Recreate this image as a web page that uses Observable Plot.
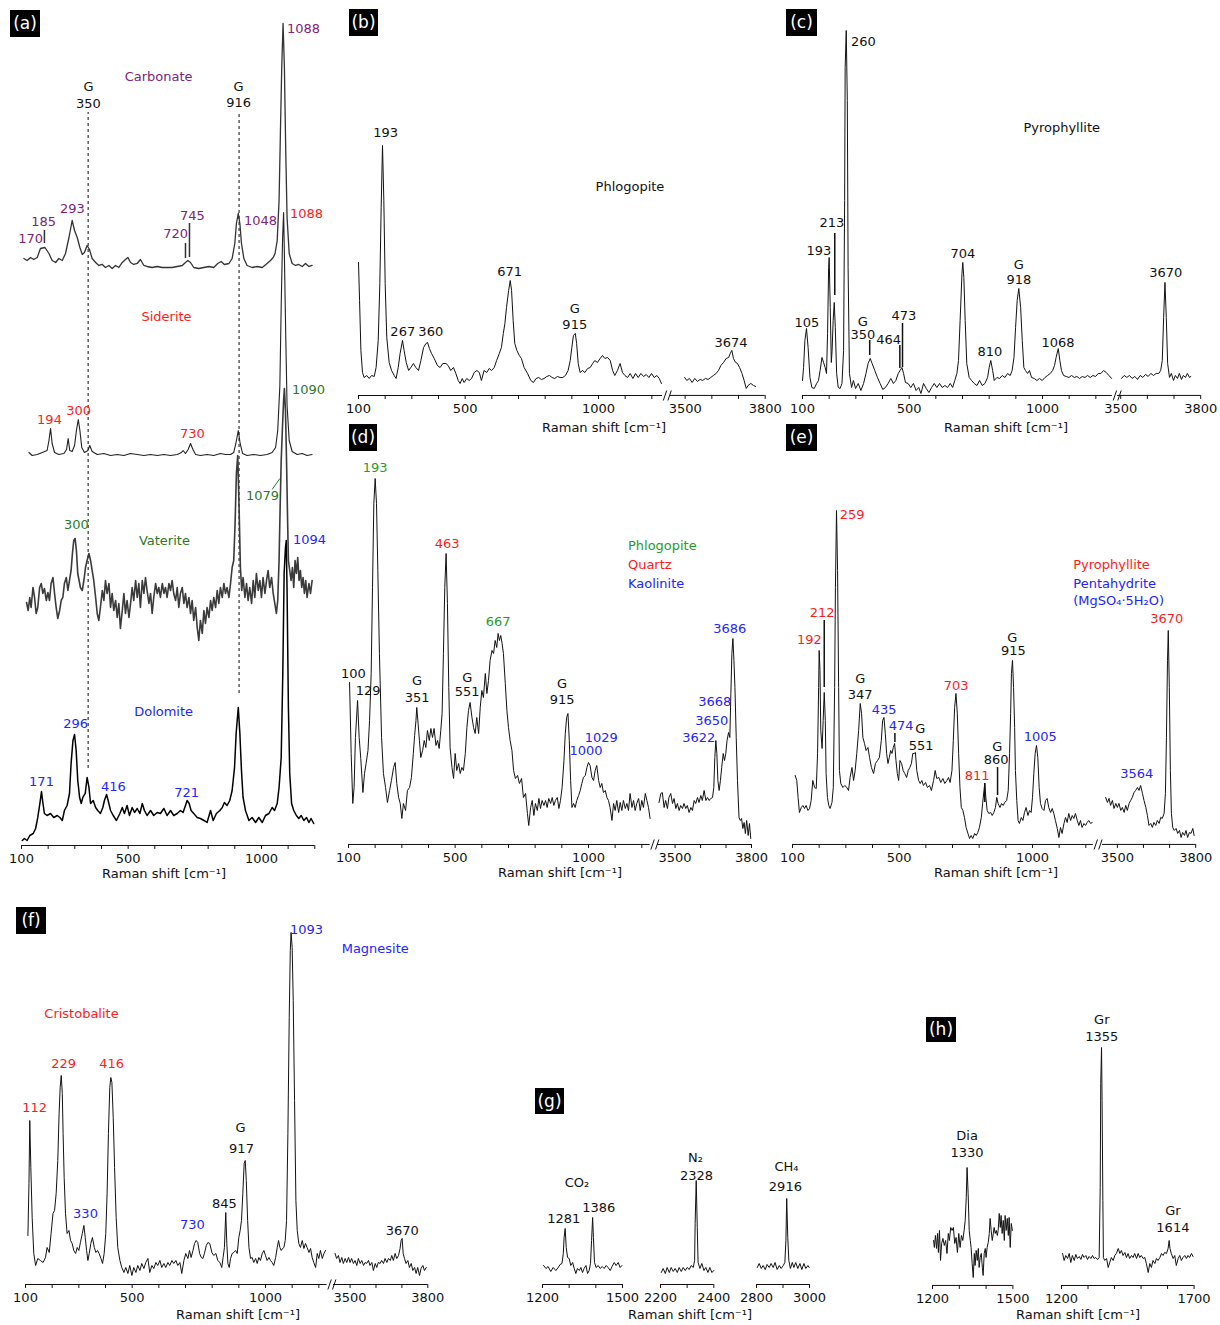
<!DOCTYPE html>
<html><head><meta charset="utf-8">
<script src="https://cdn.jsdelivr.net/npm/d3@7"></script>
<script src="https://cdn.jsdelivr.net/npm/@observablehq/plot@0.6"></script>
<style>
html,body{margin:0;padding:0;background:#fff;}
#root{position:relative;width:1220px;height:1325px;background:#fff;font-family:"DejaVu Sans",Verdana,sans-serif;color:#111;overflow:hidden}
.tag{position:absolute;background:#000;color:#fff;font-size:17px;text-align:center;}
.xl{position:absolute;font-size:13px;transform:translate(-50%,-50%);white-space:nowrap;color:#111}
</style></head><body><div id="root"></div>
<script>
// ---------- colours ----------
const PURPLE="#80237b", RED="#ff1a1a", GREEN="#2a7a2a", GREEN2="#2a9a2a", BLUE="#2424ff", BLACK="#111";

// ---------- tick values / labels ----------
const ticksLow=[100,200,300,400,500,600,700,800,900,1000,1100,1200];
const labelsLow=[100,500,1000];
const ticksHigh=[3500,3600,3700,3800];
const labelsHigh=[3500,3800];
const ticksG1=[1200,1300,1400,1500], labelsG1=[1200,1500];
const ticksG2=[2200,2300,2400], labelsG2=[2200,2400];
const ticksG3=[2800,2900,3000], labelsG3=[2800,3000];
const ticksH1=[1200,1300,1400,1500], labelsH1=[1200,1500];
const ticksH2=[1200,1300,1400,1500,1600,1700], labelsH2=[1200,1700];

// ---------- panel (a): stacked carbonate spectra [shift, intensity] ----------
const offsetsA={carbonate:578, siderite:390, vaterite:245, dolomite:23};
const carbonate=[[109,9],[121,7],[134,10],[146,8],[159,10],[171,19],[188,20],[203,14],[215,7],[228,5],[240,9],[253,7],[265,14],[278,30],[290,47],[299,37],[309,30],[319,20],[328,13],[336,15],[346,22],[355,18],[365,9],[378,5],[390,2],[403,3],[415,0],[428,2],[440,-1],[453,2],[465,0],[478,5],[490,8],[499,10],[509,5],[521,3],[534,4],[546,8],[559,2],[571,1],[590,0],[609,1],[628,0],[646,0],[665,0],[684,1],[703,2],[715,5],[724,7],[734,5],[746,0],[765,-1],[784,0],[803,1],[821,0],[836,4],[849,6],[861,3],[878,4],[890,9],[900,24],[906,44],[913,54],[919,44],[925,24],[934,9],[946,2],[965,0],[984,1],[1003,0],[1021,4],[1034,7],[1044,10],[1051,14],[1059,27],[1066,67],[1071,134],[1076,200],[1081,244],[1086,200],[1091,117],[1096,50],[1104,14],[1115,4],[1128,2],[1140,3],[1153,1],[1165,4],[1178,1],[1190,2]];
const siderite=[[128,3],[140,0],[159,1],[178,3],[196,5],[203,15],[209,27],[215,12],[224,3],[240,1],[259,2],[269,6],[275,17],[281,5],[290,4],[299,10],[306,25],[313,36],[319,25],[326,8],[336,3],[349,5],[356,10],[365,4],[384,1],[409,2],[434,0],[459,1],[484,0],[509,2],[534,1],[559,0],[584,1],[609,0],[634,1],[659,0],[684,1],[700,3],[706,5],[715,2],[725,6],[734,12],[743,6],[753,1],[771,0],[796,1],[821,0],[846,2],[865,1],[884,1],[896,3],[904,12],[913,25],[920,12],[929,2],[946,0],[971,1],[996,0],[1021,1],[1040,3],[1053,8],[1061,25],[1069,70],[1074,150],[1079,215],[1083,243],[1086,200],[1091,120],[1096,50],[1104,15],[1115,4],[1134,1],[1153,2],[1171,0],[1190,1]];
const vaterite=[[119,-2],[125,-10],[131,3],[136,-7],[143,13],[149,3],[155,-13],[161,-7],[168,13],[174,17],[180,7],[186,12],[193,0],[199,8],[205,0],[211,17],[218,23],[224,7],[230,-7],[236,-18],[243,-10],[249,0],[255,3],[261,17],[268,23],[274,10],[280,20],[286,30],[291,47],[296,60],[301,62],[306,50],[311,27],[316,20],[321,13],[328,10],[334,20],[340,33],[346,40],[353,47],[359,40],[365,30],[371,20],[378,3],[384,-13],[390,-20],[396,-7],[403,10],[409,0],[415,20],[421,7],[428,17],[434,-7],[440,7],[446,-10],[453,0],[459,-17],[465,-3],[471,-28],[478,-10],[484,7],[490,-13],[496,0],[503,-17],[509,-3],[515,13],[521,0],[528,20],[534,3],[540,17],[546,-7],[553,20],[559,7],[565,23],[571,10],[578,-3],[584,7],[590,-13],[596,3],[603,17],[609,7],[615,13],[621,3],[628,17],[634,7],[640,13],[646,3],[653,17],[659,10],[665,20],[671,7],[678,0],[684,13],[690,-7],[696,7],[703,13],[709,-3],[715,7],[721,-7],[728,3],[734,-13],[740,0],[746,-20],[753,-7],[759,-27],[765,-40],[771,-20],[778,-33],[784,-10],[790,-23],[796,-7],[803,-17],[809,0],[815,-10],[821,3],[828,-7],[834,10],[840,-3],[846,13],[853,3],[859,17],[865,7],[871,13],[878,3],[884,17],[890,33],[896,40],[901,77],[906,127],[911,145],[916,93],[921,33],[926,10],[931,23],[938,3],[944,17],[950,0],[956,13],[963,-3],[969,20],[975,3],[981,27],[988,10],[994,20],[1000,3],[1006,23],[1013,7],[1019,20],[1025,30],[1031,13],[1038,23],[1044,7],[1050,-3],[1056,-13],[1061,0],[1066,40],[1070,93],[1074,140],[1079,175],[1083,200],[1086,212],[1090,190],[1094,140],[1098,80],[1101,40],[1106,30],[1111,20],[1116,33],[1121,13],[1126,40],[1131,27],[1136,43],[1141,20],[1146,30],[1151,13],[1156,23],[1161,7],[1166,20],[1171,3],[1178,17],[1184,7],[1190,20]];
const dolomite=[[103,-18],[111,-16],[121,-18],[131,-13],[144,-11],[153,-6],[161,5],[169,19],[175,31],[180,20],[186,9],[196,7],[209,9],[221,5],[234,7],[244,5],[253,2],[261,12],[271,17],[280,29],[286,59],[293,82],[299,88],[305,72],[311,42],[318,25],[324,19],[330,25],[339,29],[346,45],[353,35],[359,19],[369,22],[378,15],[386,12],[396,9],[405,15],[411,22],[419,28],[425,22],[434,12],[444,7],[456,2],[469,9],[478,15],[486,9],[496,17],[505,7],[515,15],[524,10],[534,14],[544,9],[553,19],[561,12],[571,7],[584,12],[596,7],[609,10],[621,9],[634,14],[646,7],[659,12],[671,7],[684,9],[696,12],[706,10],[715,17],[721,22],[729,19],[736,12],[746,9],[759,5],[771,4],[784,2],[796,0],[809,12],[819,2],[831,9],[844,12],[853,15],[861,20],[871,17],[881,22],[890,32],[899,55],[905,89],[913,115],[919,89],[925,52],[931,25],[940,12],[953,2],[965,5],[978,0],[990,5],[1003,0],[1015,7],[1028,9],[1040,15],[1049,12],[1059,19],[1066,35],[1074,65],[1080,149],[1085,249],[1090,275],[1093,282],[1096,232],[1101,115],[1106,49],[1113,19],[1121,12],[1131,7],[1140,4],[1149,7],[1159,2],[1169,5],[1178,0],[1186,4],[1196,-1]];
const aLabels=[[614,769,"Carbonate",PURPLE],[351,759,"G",BLACK],[351,742,"350",BLACK],[914,759,"G",BLACK],[914,743,"916",BLACK],[1158,817,"1088",PURPLE],[291,637,"293",PURPLE],[183,624,"185",PURPLE],[134,607,"170",PURPLE],[741,630,"745",PURPLE],[678,612,"720",PURPLE],[996,625,"1048",PURPLE],[1169,632,"1088",RED],[644,529,"Siderite",RED],[205,426,"194",RED],[314,435,"300",RED],[741,412,"730",RED],[1176,456,"1090",GREEN],[1004,350,"1079",GREEN],[306,321,"300",GREEN],[636,305,"Vaterite",GREEN],[1180,306,"1094",BLUE],[633,134,"Dolomite",BLUE],[303,122,"296",BLUE],[175,64,"171",BLUE],[445,59,"416",BLUE],[719,53,"721",BLUE]];
const aMarkers=[[186,602,615],[715,587,602],[730,588,622]];
const aGuides=[[350,77,733],[916,152,733]];
const aSlash=[[1040,356,1069,367]];

// ---------- panel (b): phlogopite ----------
const bLow=[[100,133],[104,95],[109,45],[115,23],[121,18],[131,20],[140,17],[149,20],[159,19],[166,28],[174,55],[180,112],[185,188],[190,250],[195,195],[200,112],[206,58],[215,33],[224,25],[234,20],[241,17],[249,28],[256,42],[265,55],[271,45],[279,33],[288,25],[296,28],[306,32],[315,28],[325,25],[334,35],[344,48],[353,52],[359,53],[366,47],[374,42],[384,37],[396,30],[406,28],[416,32],[428,32],[436,30],[446,25],[456,28],[465,22],[474,15],[481,12],[489,17],[496,13],[506,17],[515,15],[524,17],[534,23],[544,25],[553,23],[561,15],[571,25],[581,23],[590,27],[599,25],[609,28],[618,35],[628,42],[636,48],[643,62],[649,72],[655,88],[663,105],[669,115],[674,105],[680,75],[686,52],[694,45],[703,40],[711,37],[721,28],[734,22],[746,15],[756,13],[766,17],[776,18],[786,16],[796,17],[806,19],[816,20],[826,18],[836,17],[846,19],[856,18],[866,18],[876,20],[886,25],[894,35],[900,48],[906,60],[913,62],[918,52],[924,32],[931,23],[940,25],[949,23],[959,27],[969,28],[978,32],[986,35],[996,33],[1006,37],[1015,40],[1024,37],[1034,38],[1044,35],[1053,25],[1061,20],[1071,25],[1081,32],[1090,23],[1099,20],[1109,18],[1119,22],[1129,17],[1139,22],[1149,18],[1159,22],[1169,19],[1179,21],[1189,18],[1199,22],[1209,18],[1219,20],[1228,17],[1236,12]];
const bHigh=[[3498,18],[3506,15],[3516,17],[3526,13],[3536,17],[3546,14],[3556,16],[3566,15],[3576,17],[3586,16],[3596,18],[3606,20],[3616,22],[3625,25],[3634,30],[3644,33],[3654,37],[3663,38],[3669,42],[3675,45],[3681,37],[3689,33],[3696,32],[3704,28],[3713,22],[3721,15],[3729,7],[3736,10],[3746,12],[3756,10],[3764,9]];
const bLabels=[[202,263,"193"],[266,64,"267"],[371,64,"360"],[667,124,"671"],[911,87,"G"],[911,71,"915"],[1118,209,"Phlogopite"]];
const bLabelsHigh=[[3672,53,"3674"]];

// ---------- panel (c): pyrophyllite ----------
const cLow=[[100,15],[104,28],[109,55],[115,67],[121,48],[128,18],[135,8],[144,7],[153,12],[160,15],[166,25],[173,38],[179,33],[185,28],[190,22],[194,62],[198,128],[200,138],[204,88],[208,33],[211,45],[215,75],[219,93],[223,68],[228,22],[234,8],[241,7],[248,12],[254,45],[258,195],[260,328],[264,365],[268,295],[271,128],[276,22],[284,8],[291,15],[299,7],[309,12],[319,5],[329,12],[338,22],[346,32],[354,37],[361,32],[371,25],[381,18],[391,12],[401,6],[411,8],[421,12],[431,17],[441,12],[450,15],[459,22],[466,25],[473,28],[479,22],[486,13],[496,12],[506,8],[516,12],[526,5],[536,8],[544,2],[554,12],[564,7],[574,3],[584,8],[594,12],[604,8],[614,12],[624,8],[634,10],[644,8],[654,12],[663,8],[671,15],[679,22],[685,35],[691,75],[698,122],[701,133],[705,118],[710,75],[716,32],[725,18],[734,15],[744,12],[754,10],[764,15],[774,10],[784,12],[794,18],[800,28],[806,35],[813,25],[819,15],[829,18],[839,17],[849,20],[859,18],[869,22],[879,20],[886,25],[893,38],[899,68],[905,95],[911,107],[918,88],[924,55],[930,28],[936,25],[944,22],[951,25],[959,18],[969,17],[979,15],[989,17],[999,15],[1009,18],[1019,20],[1029,22],[1038,25],[1045,30],[1051,38],[1059,47],[1065,35],[1071,25],[1079,20],[1089,19],[1099,18],[1109,20],[1119,18],[1129,19],[1139,17],[1149,19],[1159,18],[1169,20],[1179,18],[1189,20],[1199,19],[1209,22],[1219,22],[1229,25],[1239,23],[1249,20],[1259,17]];
const cHigh=[[3503,17],[3513,20],[3523,18],[3533,20],[3543,17],[3553,19],[3563,16],[3573,20],[3583,18],[3593,21],[3603,19],[3613,22],[3623,20],[3633,22],[3643,22],[3650,25],[3656,35],[3661,78],[3666,113],[3671,78],[3676,32],[3683,18],[3690,22],[3698,15],[3705,20],[3713,17],[3720,22],[3728,16],[3735,20],[3743,18],[3750,22],[3758,18],[3763,19]];
const cLabels=[[328,354,"260"],[210,173,"213"],[161,145,"193"],[116,73,"105"],[326,74,"G"],[326,61,"350"],[423,56,"464"],[480,80,"473"],[701,142,"704"],[803,44,"810"],[911,131,"G"],[911,116,"918"],[1058,53,"1068"],[1072,268,"Pyrophyllite"]];
const cLabelsHigh=[[3669,123,"3670"]];
const cMarkers=[[221,100,162],[352,40,55],[465,27,50],[475,28,72]];

// ---------- panel (d): phlogopite + quartz + kaolinite ----------
const dLow=[[104,162],[110,91],[116,41],[121,57],[126,107],[134,144],[140,107],[146,86],[154,52],[160,71],[166,81],[173,94],[179,124],[185,171],[190,257],[195,341],[200,366],[205,341],[210,274],[216,191],[224,107],[231,71],[239,57],[246,42],[254,54],[261,64],[269,77],[275,82],[281,61],[288,47],[294,41],[300,26],[306,41],[314,34],[321,54],[329,57],[336,67],[343,91],[348,109],[353,124],[356,137],[361,121],[366,104],[371,87],[378,94],[384,104],[390,97],[396,114],[403,104],[409,116],[415,107],[421,116],[428,99],[434,104],[440,96],[446,114],[451,131],[456,191],[461,257],[466,291],[471,241],[476,157],[481,97],[488,77],[494,66],[500,91],[506,74],[513,81],[519,71],[525,77],[531,74],[538,91],[544,117],[550,134],[556,142],[563,127],[569,117],[575,111],[581,127],[588,111],[594,137],[600,154],[606,147],[613,171],[619,151],[625,164],[631,184],[638,194],[644,191],[650,204],[656,197],[661,211],[666,204],[671,209],[676,201],[681,191],[688,161],[694,134],[700,117],[706,104],[713,94],[719,74],[726,66],[734,69],[741,61],[749,66],[756,47],[764,51],[771,31],[776,19],[783,37],[789,44],[795,29],[801,41],[808,34],[814,46],[820,36],[826,44],[833,39],[839,44],[845,37],[851,46],[858,41],[864,47],[870,39],[876,44],[883,47],[889,36],[895,44],[901,57],[908,84],[913,111],[918,127],[923,131],[928,104],[933,64],[938,37],[944,41],[950,37],[956,44],[963,49],[969,54],[975,61],[981,67],[988,69],[994,77],[1000,82],[1006,79],[1013,67],[1019,64],[1025,74],[1031,79],[1038,64],[1044,57],[1050,61],[1056,52],[1063,54],[1069,47],[1075,44],[1081,37],[1088,24],[1094,41],[1100,34],[1106,44],[1113,32],[1119,42],[1125,34],[1131,44],[1138,36],[1144,41],[1150,34],[1156,51],[1163,37],[1169,44],[1175,34],[1181,41],[1188,46],[1194,34],[1200,44],[1206,37],[1213,51],[1219,44],[1225,37],[1231,26]];
const dHigh=[[3437,42],[3444,51],[3450,52],[3457,37],[3463,44],[3470,36],[3476,47],[3483,51],[3490,41],[3496,46],[3503,36],[3509,41],[3516,34],[3522,39],[3529,36],[3535,41],[3542,36],[3548,39],[3555,32],[3562,37],[3568,34],[3575,44],[3581,41],[3588,47],[3594,42],[3601,49],[3607,44],[3614,54],[3621,44],[3627,47],[3634,44],[3640,46],[3647,47],[3652,57],[3656,87],[3660,104],[3664,91],[3668,64],[3673,54],[3678,64],[3683,77],[3689,91],[3694,84],[3699,91],[3704,104],[3710,112],[3715,107],[3719,151],[3723,191],[3727,206],[3731,184],[3735,157],[3740,107],[3745,64],[3751,27],[3756,24],[3761,26],[3766,16],[3771,22],[3776,11],[3781,24],[3787,9],[3792,21],[3797,6]];
const dLabels=[[200,377,"193",GREEN2],[470,301,"463",RED],[661,223,"667",GREEN2],[118,171,"100",BLACK],[174,154,"129",BLACK],[357,164,"G",BLACK],[357,147,"351",BLACK],[545,167,"G",BLACK],[545,153,"551",BLACK],[901,161,"G",BLACK],[901,145,"915",BLACK],[991,94,"1000",BLUE],[1048,107,"1029",BLUE]];
const dLabelsHigh=[[3593,107,"3622",BLUE],[3644,124,"3650",BLUE],[3656,143,"3668",BLUE],[3715,216,"3686",BLUE]];
const dLegend=[[1148,299,"Phlogopite",GREEN2],[1148,280,"Quartz",RED],[1148,261,"Kaolinite",BLUE]];

// ---------- panel (e): pyrophyllite + pentahydrite ----------
const eLow=[[110,69],[116,64],[121,47],[126,32],[133,37],[139,39],[145,36],[151,39],[158,34],[164,36],[170,44],[176,64],[183,57],[189,56],[194,91],[198,157],[200,194],[203,174],[206,114],[211,96],[215,124],[219,152],[223,124],[226,71],[231,47],[236,39],[241,36],[248,42],[253,57],[258,157],[261,257],[265,334],[269,274],[273,157],[276,74],[281,61],[289,57],[296,59],[304,57],[310,54],[316,67],[323,77],[329,64],[335,74],[341,91],[348,114],[354,141],[359,131],[364,107],[370,101],[376,94],[383,97],[389,87],[396,77],[404,71],[411,81],[419,84],[426,87],[433,104],[438,124],[443,127],[448,111],[453,91],[458,81],[463,87],[468,94],[473,91],[478,97],[483,101],[488,84],[493,71],[498,64],[503,84],[509,81],[515,74],[521,71],[528,67],[534,74],[540,77],[546,81],[551,91],[556,91],[561,92],[566,74],[573,64],[579,61],[585,64],[591,59],[599,62],[606,57],[614,59],[621,54],[629,64],[635,74],[641,66],[649,67],[656,62],[664,66],[671,61],[679,64],[685,67],[691,62],[698,74],[703,104],[708,137],[713,151],[718,131],[723,91],[728,57],[733,37],[739,34],[745,27],[751,17],[758,11],[764,6],[770,9],[776,6],[783,11],[789,9],[795,12],[801,17],[808,27],[813,41],[818,54],[821,61],[825,47],[830,34],[836,31],[843,32],[849,29],[855,32],[861,37],[866,47],[871,41],[878,37],[884,41],[890,39],[896,42],[903,44],[909,54],[914,91],[918,131],[921,171],[925,184],[929,157],[933,117],[936,74],[941,44],[946,24],[951,21],[958,27],[964,24],[970,32],[976,37],[983,29],[989,34],[995,32],[1000,47],[1005,71],[1010,91],[1015,99],[1020,87],[1025,57],[1030,41],[1036,36],[1043,34],[1049,44],[1055,46],[1061,37],[1068,32],[1074,36],[1080,31],[1086,24],[1093,16],[1099,7],[1105,17],[1111,11],[1118,21],[1124,27],[1130,22],[1136,31],[1143,24],[1149,29],[1155,26],[1161,31],[1168,24],[1174,19],[1180,24],[1186,17],[1193,21],[1199,19],[1205,22],[1211,24],[1218,21],[1224,22]];
const eHigh=[[3455,47],[3462,42],[3468,46],[3474,39],[3481,44],[3487,36],[3494,41],[3500,37],[3506,41],[3513,34],[3519,37],[3526,32],[3532,39],[3538,34],[3545,41],[3551,44],[3557,47],[3564,52],[3570,54],[3577,57],[3583,54],[3589,59],[3596,51],[3602,44],[3609,37],[3615,29],[3621,19],[3628,21],[3634,17],[3640,22],[3647,19],[3653,24],[3660,21],[3666,27],[3672,26],[3679,31],[3684,51],[3688,107],[3692,184],[3695,214],[3699,157],[3703,74],[3707,31],[3712,17],[3718,14],[3725,16],[3731,11],[3738,14],[3744,7],[3750,12],[3757,9],[3763,14],[3769,7],[3776,12],[3782,11],[3789,16],[3794,9]];
const eLabels=[[324,330,"259",RED],[211,232,"212",RED],[163,205,"192",RED],[354,166,"G",BLACK],[354,150,"347",BLACK],[444,135,"435",BLUE],[507,119,"474",BLUE],[579,116,"G",BLACK],[582,99,"551",BLACK],[714,159,"703",RED],[792,69,"811",RED],[868,98,"G",BLACK],[864,85,"860",BLACK],[924,207,"G",BLACK],[928,194,"915",BLACK],[1029,108,"1005",BLUE]];
const eLabelsHigh=[[3574,71,"3564",BLUE],[3689,226,"3670",RED]];
const eLegend=[[1153,280,"Pyrophyllite",RED],[1153,261,"Pentahydrite",BLUE],[1153,244,"(MgSO₄·5H₂O)",BLUE]];
const eMarkers=[[219,157,224],[484,102,111],[821,42,61],[869,49,77]];

// ---------- panel (f): cristobalite + magnesite ----------
const fLow=[[109,49],[113,101],[116,164],[120,117],[125,67],[131,31],[138,19],[146,26],[156,24],[166,22],[175,27],[181,37],[189,32],[196,51],[203,71],[209,74],[215,91],[221,124],[226,171],[230,197],[234,209],[238,191],[241,151],[245,107],[250,71],[256,51],[263,54],[269,44],[275,41],[281,34],[288,31],[294,37],[300,34],[306,42],[313,51],[319,59],[324,47],[329,34],[334,24],[339,31],[345,41],[351,47],[358,37],[364,32],[370,34],[376,31],[383,26],[389,21],[395,31],[401,51],[406,91],[411,151],[416,197],[420,207],[424,202],[429,167],[434,117],[440,67],[446,37],[454,24],[461,17],[469,12],[476,17],[484,11],[491,19],[499,9],[506,17],[514,12],[521,19],[529,14],[536,21],[544,16],[551,22],[559,26],[566,12],[574,19],[581,16],[589,22],[596,19],[604,24],[611,17],[619,21],[626,17],[634,22],[641,19],[649,24],[656,21],[664,24],[671,19],[679,22],[686,11],[694,24],[701,31],[709,26],[715,34],[721,27],[728,34],[734,41],[740,44],[746,42],[753,31],[759,27],[765,26],[771,31],[778,39],[784,42],[791,41],[799,32],[806,29],[814,31],[821,24],[829,22],[836,17],[841,27],[846,37],[851,72],[855,41],[859,21],[864,17],[869,26],[875,31],[881,32],[888,34],[894,31],[900,47],[905,54],[910,64],[915,91],[920,121],[924,124],[928,104],[933,64],[938,37],[944,26],[950,27],[956,22],[963,26],[969,21],[975,27],[981,24],[988,31],[994,34],[1000,29],[1006,24],[1013,27],[1019,24],[1025,22],[1031,19],[1038,27],[1044,37],[1049,44],[1054,37],[1059,34],[1064,36],[1069,37],[1074,44],[1079,64],[1084,151],[1089,267],[1093,334],[1096,352],[1100,337],[1104,284],[1109,184],[1114,84],[1119,54],[1125,41],[1131,37],[1138,44],[1144,36],[1150,41],[1156,37],[1163,32],[1169,36],[1175,27],[1181,22],[1188,17],[1194,31],[1200,26],[1206,34],[1213,26],[1219,31],[1225,34]];
const fHigh=[[3442,31],[3448,26],[3455,29],[3461,22],[3468,27],[3474,21],[3481,26],[3487,22],[3494,27],[3500,22],[3506,26],[3513,21],[3519,24],[3526,19],[3532,26],[3539,21],[3545,24],[3552,19],[3558,22],[3564,21],[3571,24],[3577,19],[3584,22],[3590,14],[3597,21],[3603,17],[3609,22],[3616,21],[3622,24],[3629,21],[3635,26],[3642,22],[3648,26],[3655,24],[3661,29],[3667,24],[3674,31],[3680,26],[3687,29],[3693,36],[3697,44],[3701,46],[3705,31],[3710,26],[3716,21],[3723,24],[3729,17],[3736,21],[3742,14],[3749,17],[3755,11],[3761,17],[3768,9],[3774,16],[3781,19],[3787,14],[3794,17]];
const fLabels=[[310,271,"Cristobalite",RED],[134,177,"112",RED],[243,221,"229",RED],[423,221,"416",RED],[325,71,"330",BLUE],[726,60,"730",BLUE],[846,81,"845",BLACK],[906,157,"G",BLACK],[910,136,"917",BLACK],[1154,355,"1093",BLUE]];
const fLabelsHigh=[[3597,336,"Magnesite",BLUE],[3701,54,"3670",BLACK]];

// ---------- panel (g): fluid inclusion gases ----------
const gCO2=[[1204,19],[1213,16],[1221,18],[1231,13],[1240,17],[1250,14],[1259,17],[1266,20],[1273,21],[1278,31],[1281,47],[1285,56],[1289,37],[1294,27],[1300,26],[1306,19],[1313,22],[1319,16],[1325,11],[1331,16],[1338,14],[1344,17],[1350,12],[1356,16],[1363,19],[1369,11],[1375,14],[1380,21],[1384,44],[1388,67],[1391,47],[1395,22],[1401,17],[1409,19],[1416,16],[1424,18],[1431,16],[1439,19],[1446,17],[1454,14],[1461,18],[1469,22],[1476,19],[1484,22],[1491,17],[1498,19]];
const gN2=[[2203,12],[2210,16],[2218,11],[2225,17],[2233,12],[2240,17],[2248,13],[2255,16],[2263,12],[2270,17],[2278,13],[2285,17],[2293,14],[2300,17],[2308,15],[2315,19],[2323,17],[2328,24],[2330,61],[2334,104],[2338,57],[2341,22],[2348,16],[2355,21],[2363,14],[2370,17],[2378,12],[2385,17],[2393,12],[2400,14]];
const gCH4=[[2803,17],[2810,21],[2818,16],[2825,19],[2833,15],[2840,20],[2848,17],[2855,21],[2863,17],[2870,22],[2878,15],[2886,19],[2893,16],[2901,19],[2907,22],[2911,44],[2914,86],[2918,47],[2922,24],[2928,16],[2935,22],[2941,17],[2948,22],[2956,16],[2964,21],[2971,15],[2979,21],[2986,16],[2994,19],[2999,17]];
const gLabels1=[[1329,102,"CO₂"],[1280,66,"1281"],[1411,77,"1386"]];
const gLabels2=[[2331,127,"N₂"],[2335,109,"2328"]];
const gLabels3=[[2913,118,"CH₄"],[2909,98,"2916"]];

// ---------- panel (h): diamond / graphite ----------
const hDia=[[1204,45],[1207,38],[1211,50],[1215,37],[1219,52],[1222,33],[1226,55],[1230,25],[1234,42],[1239,47],[1244,40],[1249,45],[1254,32],[1259,52],[1263,45],[1268,58],[1273,55],[1278,58],[1283,42],[1288,48],[1293,33],[1298,52],[1303,38],[1308,50],[1313,45],[1318,55],[1322,65],[1326,88],[1329,118],[1333,92],[1337,55],[1341,45],[1344,38],[1348,22],[1352,8],[1356,32],[1359,20],[1363,35],[1367,25],[1371,37],[1374,18],[1378,28],[1382,32],[1386,18],[1389,10],[1393,32],[1397,37],[1400,28],[1404,38],[1408,43],[1412,52],[1415,67],[1419,55],[1423,45],[1427,52],[1430,58],[1434,52],[1438,55],[1442,50],[1445,55],[1449,72],[1453,58],[1456,70],[1460,52],[1464,65],[1468,45],[1471,70],[1475,55],[1479,67],[1483,50],[1486,68],[1490,38],[1494,62],[1498,55]];
const hGr=[[1204,32],[1210,25],[1216,30],[1223,27],[1229,32],[1235,23],[1241,30],[1248,25],[1254,31],[1260,27],[1267,29],[1273,26],[1279,31],[1285,28],[1292,30],[1298,26],[1304,29],[1311,27],[1317,30],[1323,27],[1329,28],[1336,26],[1342,28],[1346,98],[1348,202],[1351,238],[1353,185],[1356,85],[1358,28],[1363,25],[1370,27],[1376,18],[1382,23],[1388,28],[1395,25],[1401,30],[1407,32],[1414,37],[1420,32],[1426,35],[1432,30],[1439,33],[1445,28],[1451,32],[1457,27],[1464,30],[1470,28],[1476,32],[1483,27],[1489,32],[1495,28],[1501,30],[1508,27],[1514,28],[1520,22],[1527,13],[1533,22],[1539,18],[1545,25],[1552,22],[1558,27],[1564,25],[1571,28],[1577,32],[1583,30],[1589,33],[1596,32],[1602,37],[1606,45],[1609,37],[1614,32],[1621,27],[1627,30],[1633,20],[1640,27],[1646,30],[1652,25],[1658,28],[1665,30],[1671,27],[1677,30],[1683,28],[1690,32],[1696,29]];
const hLabels1=[[1329,150,"Dia"],[1329,133,"1330"]];
const hLabels2=[[1352,266,"Gr"],[1352,249,"1355"],[1620,75,"Gr"],[1620,58,"1614"]];

// ---------- page furniture ----------
const panelTags=[["(a)",10,10,30,27],["(b)",349,9,29,27],["(c)",786,9,31,27],["(d)",349,424,28,27],["(e)",786,424,31,27],["(f)",16,907,30,27],["(g)",535,1088,29,26],["(h)",926,1017,30,25]];
const axisTitlePos=[[164,873],[604,427],[1006,427],[560,872],[996,872],[238,1314],[690,1314],[1078,1314]];

// ---------- helpers ----------
const root=document.getElementById("root");
const FONT="DejaVu Sans, Verdana, sans-serif";
function seg({x0,x1,top,axisY,domain,ticks,tickLabels,marks,brk}){
  const w=x1-x0,h=axisY-top;
  const extra=[];
  if(brk){
    const upp=(domain[1]-domain[0])/w;
    extra.push(Plot.link([0,1],{x1:i=>domain[1]+(0.8+i*4.6)*upp,x2:i=>domain[1]+(4.2+i*4.6)*upp,y1:-5,y2:5,stroke:"#111",strokeWidth:1}));
  }
  const svg=Plot.plot({
    width:w,height:h,margin:0,
    x:{domain,range:[0,w],axis:null},
    y:{domain:[0,h],range:[h,0],axis:null},
    color:{type:"identity"},
    style:{background:"transparent",overflow:"visible",fontFamily:FONT,fontSize:"13px",color:"#111"},
    marks:[
      ...marks,
      Plot.ruleY([0],{stroke:"#111",strokeWidth:1}),
      Plot.ruleX(ticks,{y1:0,y2:-4,stroke:"#111",strokeWidth:1}),
      Plot.text(tickLabels,{x:d=>d,y:-13,text:d=>String(d),fontSize:13,fill:"#111"}),
      ...extra
    ]
  });
  svg.style.position="absolute";svg.style.left=x0+"px";svg.style.top=top+"px";
  root.appendChild(svg);
}
const spec=(data,offset=0,stroke="#111",sw=1)=>Plot.line(data,{x:d=>d[0],y:d=>d[1]+offset,stroke,strokeWidth:sw});
const lab=(arr,opts={})=>Plot.text(arr,{x:d=>d[0],y:d=>d[1],text:d=>d[2],fill:d=>d[3]||BLACK,fontSize:13,...opts});
const mk=(arr,color=BLACK)=>Plot.ruleX(arr,{x:d=>d[0],y1:d=>d[1],y2:d=>d[2],stroke:color,strokeWidth:1.5});

// ---------- (a) ----------
seg({x0:21,x1:314.3,top:15,axisY:845,domain:[100,1200],ticks:ticksLow,tickLabels:labelsLow,marks:[
  Plot.ruleX(aGuides,{x:d=>d[0],y1:d=>d[1],y2:d=>d[2],stroke:"#333",strokeWidth:1.2,strokeDasharray:"3,3"}),
  spec(dolomite,offsetsA.dolomite,"#000",1.5),
  spec(vaterite,offsetsA.vaterite,"#3a3a3a",1.6),
  spec(siderite,offsetsA.siderite,"#222",1.1),
  spec(carbonate,offsetsA.carbonate,"#333",1.3),
  mk(aMarkers,"#333"),
  Plot.link(aSlash,{x1:d=>d[0],y1:d=>d[1],x2:d=>d[2],y2:d=>d[3],stroke:GREEN,strokeWidth:1}),
  lab(aLabels)
]});
// ---------- (b) ----------
seg({x0:357.7,x1:661.7,top:10,axisY:395,domain:[100,1240],ticks:ticksLow,tickLabels:labelsLow,brk:true,marks:[spec(bLow),lab(bLabels)]});
seg({x0:670.3,x1:765,top:10,axisY:395,domain:[3445,3800],ticks:ticksHigh,tickLabels:labelsHigh,marks:[spec(bHigh),lab(bLabelsHigh)]});
// ---------- (c) ----------
seg({x0:801.7,x1:1111.6,top:10,axisY:395,domain:[100,1262],ticks:ticksLow,tickLabels:labelsLow,brk:true,marks:[spec(cLow),mk(cMarkers),lab(cLabels)]});
seg({x0:1116.8,x1:1200,top:10,axisY:395,domain:[3488,3800],ticks:ticksHigh,tickLabels:labelsHigh,marks:[spec(cHigh),lab(cLabelsHigh)]});
// ---------- (d) ----------
seg({x0:348.3,x1:649.9,top:440,axisY:844,domain:[100,1231],ticks:ticksLow,tickLabels:labelsLow,brk:true,marks:[spec(dLow),lab(dLabels),lab(dLegend,{textAnchor:"start"})]});
seg({x0:656.7,x1:750.7,top:440,axisY:844,domain:[3431,3800],ticks:ticksHigh,tickLabels:labelsHigh,marks:[spec(dHigh),lab(dLabelsHigh)]});
// ---------- (e) ----------
seg({x0:792.3,x1:1093.1,top:440,axisY:844,domain:[100,1228],ticks:ticksLow,tickLabels:labelsLow,brk:true,marks:[spec(eLow),mk(eMarkers),lab(eLabels),lab(eLegend,{textAnchor:"start"})]});
seg({x0:1101.8,x1:1195,top:440,axisY:844,domain:[3443,3800],ticks:ticksHigh,tickLabels:labelsHigh,marks:[spec(eHigh),lab(eLabelsHigh)]});
// ---------- (f) ----------
seg({x0:25,x1:326.6,top:900,axisY:1284,domain:[100,1231],ticks:ticksLow,tickLabels:labelsLow,brk:true,marks:[spec(fLow),lab(fLabels)]});
seg({x0:333.4,x1:427.7,top:900,axisY:1284,domain:[3436,3800],ticks:ticksHigh,tickLabels:labelsHigh,marks:[spec(fHigh),lab(fLabelsHigh)]});
// ---------- (g) ----------
seg({x0:541.7,x1:621.7,top:1100,axisY:1284,domain:[1200,1500],ticks:ticksG1,tickLabels:labelsG1,marks:[spec(gCO2),lab(gLabels1)]});
seg({x0:660,x1:713.3,top:1100,axisY:1284,domain:[2200,2400],ticks:ticksG2,tickLabels:labelsG2,marks:[spec(gN2),lab(gLabels2)]});
seg({x0:756,x1:809,top:1100,axisY:1284,domain:[2800,3000],ticks:ticksG3,tickLabels:labelsG3,marks:[spec(gCH4),lab(gLabels3)]});
// ---------- (h) ----------
seg({x0:932.3,x1:1012.7,top:1000,axisY:1285,domain:[1200,1500],ticks:ticksH1,tickLabels:labelsH1,marks:[spec(hDia),lab(hLabels1)]});
seg({x0:1060.7,x1:1193.3,top:1000,axisY:1285,domain:[1200,1700],ticks:ticksH2,tickLabels:labelsH2,marks:[spec(hGr),lab(hLabels2)]});

// ---------- tags and axis titles ----------
for(const [t,x,y,w,h] of panelTags){
  const d=document.createElement("div");d.className="tag";d.textContent=t;
  Object.assign(d.style,{left:x+"px",top:y+"px",width:w+"px",height:h+"px",lineHeight:h+"px"});
  root.appendChild(d);
}
for(const [x,y] of axisTitlePos){
  const d=document.createElement("div");d.className="xl";d.textContent="Raman shift [cm⁻¹]";
  Object.assign(d.style,{left:x+"px",top:y+"px"});
  root.appendChild(d);
}
</script></body></html>
